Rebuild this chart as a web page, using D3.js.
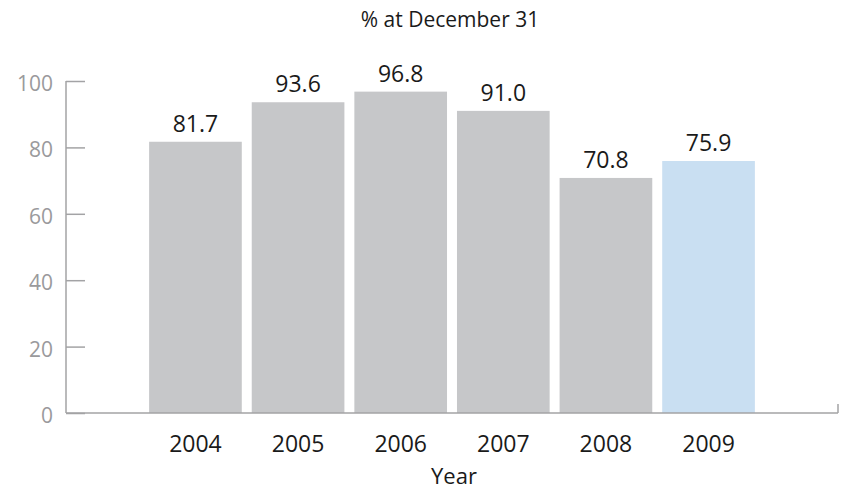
<!DOCTYPE html>
<html>
<head>
<meta charset="utf-8">
<script src="https://cdn.jsdelivr.net/npm/d3@7"></script>
<style>
  body { margin: 0; background: #fff; }
  text { font-family: "Open Sans", "Noto Sans", sans-serif; }
</style>
</head>
<body>
<svg id="chart"></svg>
<script>
// data
const years = ["2004", "2005", "2006", "2007", "2008", "2009"];
const values = [81.7, 93.6, 96.8, 91.0, 70.8, 75.9];
const yTicks = [0, 20, 40, 60, 80, 100];
const highlightYear = "2009";

const width = 848, height = 491;
const margin = {top: 81, right: 10, bottom: 78, left: 66};
const axisRight = 838;

const svg = d3.select('#chart')
    .attr('width', width)
    .attr('height', height);

const x = d3.scaleBand()
    .domain(years)
    .range([margin.left, axisRight])
    .paddingInner(0.097)
    .paddingOuter(0.81);

const y = d3.scaleLinear()
    .domain([0, 100])
    .range([height - margin.bottom, margin.top]);

const axisColor = "#a3a3a5";

// y axis
const yAxis = svg.append('g')
    .attr('transform', `translate(${margin.left},0)`)
    .call(d3.axisRight(y).tickValues(yTicks).tickSize(19).tickFormat(d3.format('d')));
yAxis.select('.domain').remove();
yAxis.selectAll('.tick line').attr('stroke', axisColor).attr('stroke-width', 1.5);
yAxis.selectAll('.tick text')
    .attr('x', -13)
    .attr('dy', '0.45em')
    .attr('text-anchor', 'end')
    .attr('fill', '#9a9a9c')
    .attr('font-size', 21);
svg.append('line')
    .attr('x1', margin.left).attr('x2', margin.left)
    .attr('y1', y(100)).attr('y2', y(0))
    .attr('stroke', axisColor).attr('stroke-width', 1.5);

// bars
svg.selectAll('rect.bar')
    .data(years)
    .join('rect')
    .attr('class', 'bar')
    .attr('x', d => x(d))
    .attr('width', x.bandwidth())
    .attr('y', (d, i) => y(values[i]))
    .attr('height', (d, i) => y(0) - y(values[i]))
    .attr('fill', d => d === highlightYear ? "#c9dff2" : "#c6c7c9");

// value labels
svg.selectAll('text.val')
    .data(years)
    .join('text')
    .attr('class', 'val')
    .attr('x', d => x(d) + x.bandwidth() / 2)
    .attr('y', (d, i) => y(values[i]) - 10)
    .attr('text-anchor', 'middle')
    .attr('font-size', 23)
    .attr('fill', '#1a1a1a')
    .text((d, i) => values[i].toFixed(1));

// x axis
svg.append('line')
    .attr('x1', margin.left).attr('x2', axisRight)
    .attr('y1', y(0)).attr('y2', y(0))
    .attr('stroke', axisColor).attr('stroke-width', 1.5);
svg.append('line')
    .attr('x1', axisRight).attr('x2', axisRight)
    .attr('y1', y(0) - 9).attr('y2', y(0))
    .attr('stroke', axisColor).attr('stroke-width', 1.5);

svg.selectAll('text.year')
    .data(years)
    .join('text')
    .attr('class', 'year')
    .attr('x', d => x(d) + x.bandwidth() / 2)
    .attr('y', 452)
    .attr('text-anchor', 'middle')
    .attr('font-size', 23)
    .attr('fill', '#1a1a1a')
    .text(d => d);

svg.append('text')
    .attr('x', 454)
    .attr('y', 484)
    .attr('text-anchor', 'middle')
    .attr('font-size', 22)
    .attr('fill', '#1a1a1a')
    .text('Year');

svg.append('text')
    .attr('x', 450)
    .attr('y', 27)
    .attr('text-anchor', 'middle')
    .attr('font-size', 21)
    .attr('fill', '#1a1a1a')
    .text('% at December 31');
</script>
</body>
</html>
